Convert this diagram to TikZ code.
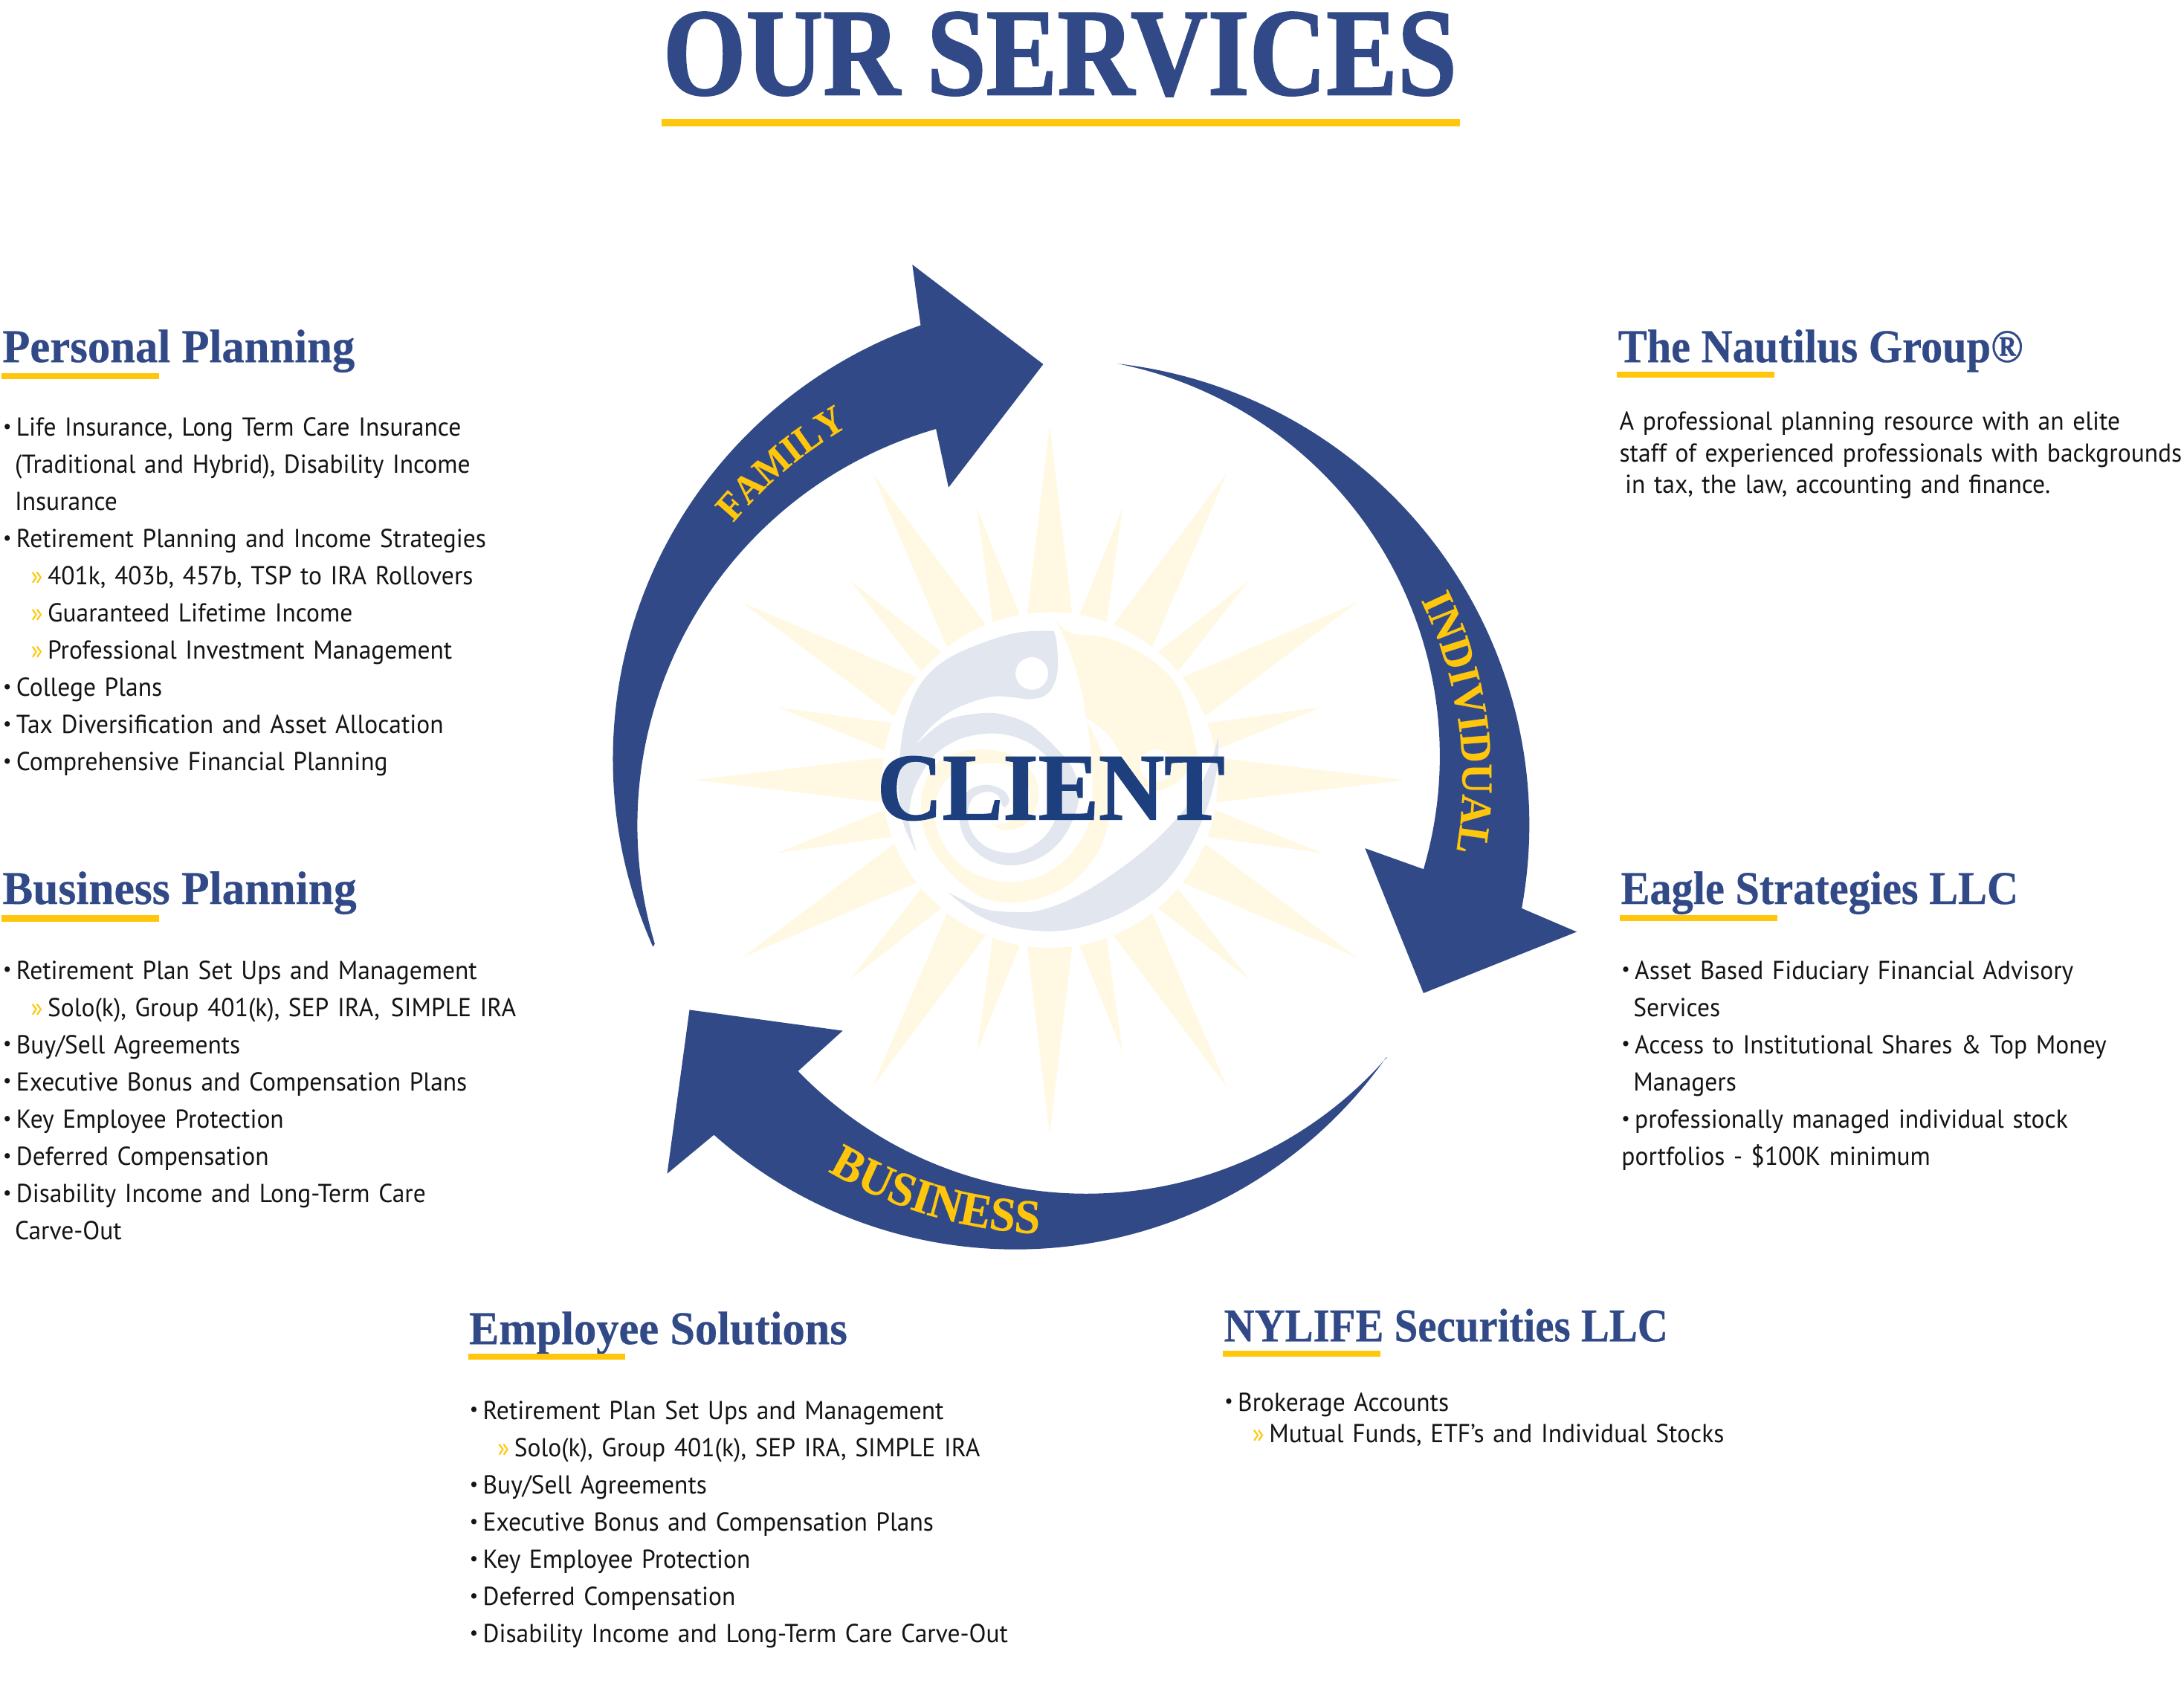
\documentclass[tikz,border=0pt]{standalone}
\usepackage{fontspec}
\usetikzlibrary{decorations.text}

\newfontfamily\headfont[FakeStretch=.9,FakeBold=.4]{Liberation Serif}
\newfontfamily\bigfont[FakeStretch=.855,FakeBold=1.2]{Liberation Serif}
\newfontfamily\clientfont[FakeStretch=.95,FakeBold=1.2]{Liberation Serif}
\newfontfamily\labelfont[FakeStretch=.95,FakeBold=.4]{Liberation Serif}
\newfontfamily\listfont[FakeStretch=.96,WordSpace=.8]{PT Sans}

\definecolor{navy}{HTML}{314A87}
\definecolor{deepblue}{HTML}{1E3F7E}
\definecolor{gold}{HTML}{FFC60B}
\definecolor{paleray}{HTML}{FFF8E3}
\definecolor{paleswirl}{HTML}{E2E7EF}

\newcommand{\itemline}[1]{\makebox[.095cm][l]{\raisebox{.25ex}{\fontsize{4}{4}\selectfont\textbullet}}#1}
\newcommand{\subline}[1]{\hspace*{.2cm}\makebox[.12cm][l]{\textcolor{gold}{»}}#1}
\newcommand{\wrapline}[1]{\hspace*{.085cm}#1}
\newcommand{\arclabel}[1]{\color{gold}\labelfont\bfseries\fontsize{#1}{10}\selectfont}

\tikzset{
  heading/.style={anchor=base west,inner sep=0pt,text=navy,transform shape,font=\headfont\bfseries\fontsize{9.6}{11}\selectfont},
  listing/.style={anchor=base west,inner sep=0pt,text width=9cm,align=left,text=black!92,font=\listfont\fontsize{5.3}{7.6}\selectfont},
  listingtight/.style={listing,font=\listfont\fontsize{5.3}{6.43}\selectfont},
  underbar/.style={draw=gold,line width=.045cm},
  arrowbody/.style={fill=navy},
}

\begin{document}
\begin{tikzpicture}
\useasboundingbox (0,0) rectangle (15.68,12.10);

% Title
\node[anchor=base,inner sep=0pt,text=navy,font=\bigfont\bfseries\fontsize{25.5}{28}\selectfont] (title) at (7.61,11.42) {OUR SERVICES};
\draw[gold,line width=.055cm] (4.75,11.22) -- (10.48,11.22);

% Sun
\begin{scope}[shift={(7.536,6.50)}]
\foreach \a in {0,30,...,330}
  \fill[paleray] (\a-7.7:1.205) -- (\a:2.55) -- (\a+7.7:1.205) arc[start angle=\a+7.7,end angle=\a-7.7,radius=1.205] -- cycle;
\foreach \a in {15,45,...,345}
  \fill[paleray] (\a-4.8:1.205) -- (\a:2.025) -- (\a+4.8:1.205) arc[start angle=\a+4.8,end angle=\a-4.8,radius=1.205] -- cycle;
\end{scope}

% Swirl
\begin{scope}[shift={(5.87,7.831)},x=.1906cm,y=-.178cm]
\fill[paleray,even odd rule] plot[smooth,tension=.6] coordinates {(8.80,.70) (9.45,1.50) (11.00,1.78) (12.60,2.65) (13.70,4.00) (14.30,6.40)}
  -- plot[smooth,tension=.6] coordinates {(14.30,6.40) (14.20,6.80) (13.50,7.60) (12.70,7.90) (11.90,7.40) (11.40,6.40) (10.90,5.60) (10.12,4.97)}
  -- plot[smooth,tension=.6] coordinates {(10.12,4.97) (9.90,3.70) (9.40,2.00) (8.80,.70)} -- cycle
  (12.75,6.90) circle[x radius=.117cm,y radius=.117cm];
\fill[paleray] plot[smooth,tension=.6] coordinates {(10.15,5.10) (10.80,6.60) (11.10,8.00) (11.00,9.00) (10.60,10.30) (9.70,11.50) (8.50,12.20) (7.20,12.42) (6.00,12.10) (4.80,11.00) (4.10,9.80) (3.90,8.80) (4.00,7.70) (4.50,6.80) (5.40,6.35) (6.40,6.25) (7.40,6.50) (8.10,7.20) (8.32,8.00) (8.15,8.80) (7.70,9.35) (7.00,9.50) (6.55,9.25)}
  -- plot[smooth,tension=.6] coordinates {(6.55,9.25) (7.00,9.25) (7.70,8.80) (8.00,8.20) (7.80,7.40) (7.20,6.90) (6.40,6.80) (5.40,7.00) (4.70,7.70) (4.40,8.60) (4.55,9.60) (5.10,10.60) (6.00,11.30) (7.20,11.60) (8.50,11.30) (9.50,10.50) (10.20,9.30) (10.35,8.00) (10.30,6.50) (10.15,5.10)} -- cycle;
\fill[paleswirl,even odd rule] plot[smooth,tension=.6] coordinates {(8.90,1.47) (7.60,1.52) (6.20,1.95) (4.80,2.65) (3.85,3.65) (3.30,5.10) (3.08,6.70) (3.05,8.00) (3.25,9.30) (3.73,10.40)}
  -- plot[smooth,tension=.6] coordinates {(3.73,10.40) (3.50,9.50) (3.45,8.80) (3.65,7.80) (4.30,6.60) (5.10,5.95) (6.00,5.65) (6.90,5.62) (7.70,5.85) (8.40,6.30) (8.95,7.00) (9.15,7.80) (9.05,8.80) (8.60,9.70) (7.90,10.25) (7.20,10.42) (6.40,10.20) (5.85,9.65) (5.65,8.90) (5.85,8.20) (6.40,7.95) (6.80,8.10) (6.90,8.40) (7.05,8.58) (7.22,8.30) (7.00,7.90) (6.40,7.67) (5.75,7.85) (5.40,8.40) (5.35,9.20) (5.65,10.00) (6.40,10.70) (7.35,10.92) (8.30,10.65) (9.10,10.00) (9.65,9.00) (9.85,8.00) (9.60,7.00) (9.00,6.20) (8.00,5.25) (6.90,4.82) (6.00,4.80) (4.80,5.10) (3.70,6.05)}
  -- plot[smooth,tension=.6] coordinates {(3.70,6.05) (4.30,5.30) (5.20,4.60) (6.50,4.13) (7.40,4.15) (8.00,4.22) (8.60,4.05) (8.95,3.50) (9.05,2.80) (9.00,1.90) (8.90,1.47)} -- cycle
  (8.07,3.18) circle[x radius=.117cm,y radius=.117cm];
\fill[paleswirl] plot[smooth,tension=.6] coordinates {(4.90,12.00) (6.00,12.90) (7.20,13.40) (8.70,13.58) (10.00,13.40) (11.50,12.80) (13.00,11.70) (14.00,10.20) (14.70,8.50) (15.05,7.00) (15.10,5.70)}
  -- plot[smooth,tension=.6] coordinates {(15.10,5.70) (14.80,6.80) (14.20,8.10) (13.30,9.30) (12.20,10.40) (10.80,11.50) (9.50,12.30) (8.30,12.75) (7.30,12.80) (6.20,12.65) (4.90,12.00)} -- cycle;
\end{scope}

% Client
\node[inner sep=0pt,text=deepblue,font=\clientfont\bfseries\fontsize{19.5}{22}\selectfont] (client) at (7.545,6.44) {CLIENT};

% Family arrow
\fill[arrowbody] (7.70,6.65) ++(204.1:3.30) arc[start angle=204.1,end angle=109.3,radius=3.30]
  -- (6.55,10.20) -- (7.49,9.485) -- (6.81,8.60) -- (6.72,9.02)
  arc[start angle=106,end angle=196.7,radius=2.96] -- cycle;

% Individual arrow
\fill[arrowbody] (7.65,6.18) ++(83.6:3.33) arc[start angle=83.6,end angle=-10.4,radius=3.33]
  -- (11.32,5.41) -- (10.22,4.97) -- (9.80,6.01) -- (10.22,5.86)
  arc[start angle=-16.4,end angle=78.8,radius=2.873] -- cycle;

% Business arrow
\fill[arrowbody] (7.29,6.39) ++(-35.2:3.26) arc[start angle=-35.2,end angle=-131.6,radius=3.26]
  -- (4.79,3.674) -- (4.95,4.85) -- (6.05,4.70) -- (5.73,4.41)
  arc[start angle=223.9,end angle=318.8,radius=2.87] -- cycle;

% Arrow labels
\path[decorate,decoration={text along path,text align=center,text={|\arclabel{8}|FAMILY}}]
  (7.60,6.40) ++(155:3.04) arc[start angle=155,end angle=105,radius=3.04];
\path[decorate,decoration={text along path,text align=center,text={|\arclabel{9}|INDIVIDUAL}}]
  (7.57,6.50) ++(38:2.93) arc[start angle=38,end angle=-22,radius=2.93];
\path[decorate,decoration={text along path,text align=center,text={|\arclabel{9.9}|BUSINESS}}]
  (7.60,6.50) ++(223:3.26) arc[start angle=223,end angle=284,radius=3.26];

% Personal planning
\node[heading,xscale=1.067] (personal) at (.01,9.50) {Personal Planning};
\draw[underbar] (.01,9.40) -- (1.14,9.40);
\node[listing] (personallist) at (.015,8.97) {%
\itemline{Life Insurance, Long Term Care Insurance}\\
\wrapline{(Traditional and Hybrid), Disability Income}\\
\wrapline{Insurance}\\
\itemline{Retirement Planning and Income Strategies}\\
\subline{401k, 403b, 457b, TSP to IRA Rollovers}\\
\subline{Guaranteed Lifetime Income}\\
\subline{Professional Investment Management}\\
\itemline{College Plans}\\
\itemline{Tax Diversification and Asset Allocation}\\
\itemline{Comprehensive Financial Planning}};

% Business planning
\node[heading,xscale=1.08] (business) at (.01,5.61) {Business Planning};
\draw[underbar] (.01,5.505) -- (1.14,5.505);
\node[listing] (businesslist) at (.015,5.07) {%
\itemline{Retirement Plan Set Ups and Management}\\
\subline{Solo(k), Group 401(k), SEP IRA,\hspace{.08cm}SIMPLE IRA}\\
\itemline{Buy/Sell Agreements}\\
\itemline{Executive Bonus and Compensation Plans}\\
\itemline{Key Employee Protection}\\
\itemline{Deferred Compensation}\\
\itemline{Disability Income and Long-Term Care}\\
\wrapline{Carve-Out}};

% Employee solutions
\node[heading,xscale=1.0625] (employee) at (3.36,2.45) {Employee Solutions};
\draw[underbar] (3.36,2.36) -- (4.49,2.36);
\node[listing] (employeelist) at (3.365,1.91) {%
\itemline{Retirement Plan Set Ups and Management}\\
\subline{Solo(k), Group 401(k), SEP IRA, SIMPLE IRA}\\
\itemline{Buy/Sell Agreements}\\
\itemline{Executive Bonus and Compensation Plans}\\
\itemline{Key Employee Protection}\\
\itemline{Deferred Compensation}\\
\itemline{Disability Income and Long-Term Care Carve-Out}};

% Nautilus
\node[heading,xscale=1.025] (nautilus) at (11.61,9.50) {The Nautilus Group®};
\draw[underbar] (11.61,9.41) -- (12.74,9.41);
\node[listingtight] (nautiluslist) at (11.62,9.01) {%
A professional planning resource with an elite\\
staff of experienced professionals with backgrounds\\
\hspace*{.04cm}in tax, the law, accounting and finance.};

% Eagle
\node[heading,xscale=1.025] (eagle) at (11.63,5.61) {Eagle Strategies LLC};
\draw[underbar] (11.63,5.51) -- (12.76,5.51);
\node[listing] (eaglelist) at (11.635,5.07) {%
\itemline{Asset Based Fiduciary Financial Advisory}\\
\wrapline{Services}\\
\itemline{Access to Institutional Shares \& Top Money}\\
\wrapline{Managers}\\
\itemline{professionally managed individual stock}\\
portfolios - \$100K minimum};

% NYLIFE
\node[heading] (nylife) at (8.78,2.47) {NYLIFE Securities LLC};
\draw[underbar] (8.78,2.38) -- (9.91,2.38);
\node[listingtight] (nylifelist) at (8.785,1.97) {%
\itemline{Brokerage Accounts}\\
\subline{Mutual Funds, ETF’s and Individual Stocks}};

\end{tikzpicture}
\end{document}
